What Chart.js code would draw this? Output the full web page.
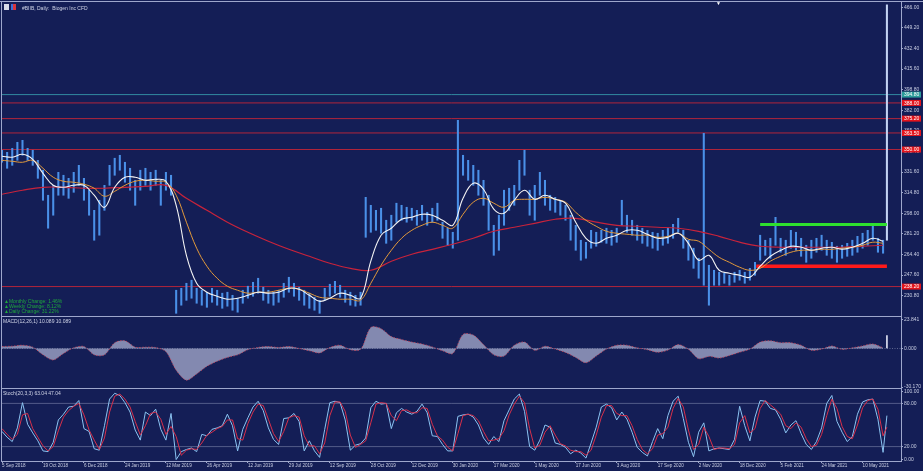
<!DOCTYPE html>
<html>
<head>
<meta charset="utf-8">
<title>#BIIB Daily</title>
<script src="https://cdn.jsdelivr.net/npm/chart.js@4.4.1/dist/chart.umd.min.js"></script>
<style>
  html, body { margin: 0; padding: 0; }
  body { width: 923px; height: 471px; overflow: hidden; position: relative; background: #141e56; font-family: "Liberation Sans", Arial, sans-serif; }
  canvas { position: absolute; left: 0; }
  .rule { position: absolute; background: #9ea7cc; }
  .label { position: absolute; font-size: 5px; line-height: 6px; color: #cfd3e6; white-space: pre; }
  .change { position: absolute; left: 4px; top: 299px; font-size: 5px; line-height: 4.8px; color: #1fa83c; white-space: pre; }
  .icon { position: absolute; top: 4px; width: 5px; height: 6px; }
</style>
</head>
<body>
<div class="rule" style="left:0;top:1px;width:923px;height:1px"></div>
<div class="rule" style="left:1px;top:1px;width:1px;height:461px"></div>
<div class="rule" style="left:901px;top:1px;width:1px;height:461px"></div>
<div class="rule" style="left:1px;top:316px;width:900px;height:1px"></div>
<div class="rule" style="left:1px;top:388px;width:900px;height:1px"></div>
<div class="rule" style="left:1px;top:461px;width:900px;height:1px"></div>

<canvas id="mainChart" width="923" height="317" style="top:0"></canvas>
<canvas id="macdChart" width="923" height="76" style="top:312px"></canvas>
<canvas id="stochChart" width="923" height="88" style="top:383px"></canvas>

<div class="icon" style="left:4px;background:#d8dbe8"></div>
<div class="icon" style="left:11px;background:linear-gradient(90deg,#3b6fd8 50%,#d8343c 50%)"></div>
<div class="label" style="left:22px;top:5px">#BIIB, Daily:  Biogen Inc CFD</div>
<div class="label" style="left:716px;top:0px;color:#ffffff;font-size:5px">▼</div>
<div class="change">▲Monthly Change: 1.46%
▲Weekly Change: 8.12%
▲Daily Change: 31.22%</div>
<div class="label" style="left:3px;top:318px">MACD(12,26,1) 10.089 10.089</div>
<div class="label" style="left:3px;top:390px">Stoch(20,3,3) 63.04 47.04</div>

<script>
// bar grid: one sample every 4 daily bars, moving averages every 8 / 16 bars
const BAR_STEP = 4;
const MA_STEP = 8;
const SLOW_STEP = 16;
const DATE_STEP = 32;
const X_MAX = 702;

const dateLabels = ["5 Sep 2018", "19 Oct 2018", "6 Dec 2018", "24 Jan 2019", "12 Mar 2019", "26 Apr 2019",
  "12 Jun 2019", "29 Jul 2019", "12 Sep 2019", "28 Oct 2019", "12 Dec 2019", "30 Jan 2020", "17 Mar 2020",
  "1 May 2020", "17 Jun 2020", "3 Aug 2020", "17 Sep 2020", "2 Nov 2020", "18 Dec 2020", "5 Feb 2021",
  "24 Mar 2021", "10 May 2021"];

const priceTicks = [230.8, 247.6, 264.4, 281.2, 298.0, 314.8, 331.6, 348.4, 365.2, 382.0, 398.8, 415.6, 432.4, 449.2, 466.0];
const macdTicks = [-30.17, 0, 23.841];
const stochTicks = [0, 20, 80, 100];
const stochLevels = [20, 80];

const highs = [349.4, 347.7, 351.0, 355.9, 357.5, 351.0, 349.4, 341.2, 333.1, 312.7,
  320.8, 331.4, 329.0, 326.5, 331.4, 337.1, 326.5, 316.8, 300.4, 308.6,
  320.8, 337.1, 342.9, 345.3, 339.6, 334.7, 324.9, 333.1, 334.7, 331.4,
  333.1, 324.9, 331.4, 329.0, 235.2, 236.8, 240.9, 243.4, 236.8, 235.2,
  233.6, 236.8, 235.2, 232.8, 233.6, 231.1, 228.7, 235.2, 238.5, 241.7,
  245.0, 237.7, 235.2, 233.6, 235.2, 240.9, 245.8, 240.9, 237.7, 235.2,
  232.8, 229.5, 227.0, 236.8, 240.1, 242.5, 239.3, 235.2, 233.6, 231.1,
  233.6, 311.0, 304.5, 300.4, 302.1, 292.3, 296.4, 306.2, 304.5, 302.9,
  302.1, 300.4, 304.5, 298.8, 302.1, 306.2, 290.7, 285.8, 282.5, 373.8,
  345.3, 341.2, 337.1, 333.1, 324.9, 312.7, 288.2, 296.4, 316.8, 318.4,
  320.8, 341.2, 349.4, 316.8, 320.8, 331.4, 324.9, 312.7, 311.0, 308.6,
  304.5, 296.4, 288.2, 276.0, 274.3, 284.1, 282.5, 284.1, 285.8, 284.1,
  285.8, 308.6, 296.4, 292.3, 288.2, 285.8, 284.1, 282.5, 281.7, 284.1,
  285.8, 289.0, 293.9, 284.1, 276.0, 269.5, 261.3, 363.2, 255.6, 251.5,
  249.9, 249.1, 247.4, 249.9, 251.5, 249.9, 253.1, 258.0, 280.1, 276.0,
  277.6, 294.7, 277.6, 276.0, 284.1, 282.5, 277.6, 271.9, 276.0, 277.6,
  280.1, 276.0, 274.3, 271.1, 271.9, 273.5, 276.0, 279.2, 281.7, 284.1,
  288.2, 277.6, 276.0];

const lows = [339.6, 334.7, 337.1, 341.2, 345.3, 341.2, 337.1, 326.5, 308.6, 285.8,
  296.4, 312.7, 312.7, 310.2, 315.1, 320.8, 308.6, 296.4, 276.0, 280.1,
  300.4, 320.8, 329.0, 333.1, 323.3, 316.8, 304.5, 316.8, 320.8, 316.8,
  320.8, 304.5, 316.8, 312.7, 216.4, 223.0, 227.0, 228.7, 224.6, 223.0,
  221.3, 225.4, 223.0, 220.5, 222.2, 218.9, 217.3, 224.6, 228.7, 230.3,
  232.8, 227.0, 224.6, 223.0, 225.4, 229.5, 233.6, 230.3, 227.0, 223.0,
  220.5, 218.9, 216.4, 227.0, 230.3, 232.8, 229.5, 225.4, 223.0, 222.2,
  223.0, 278.4, 282.5, 284.1, 281.7, 273.5, 276.0, 290.7, 292.3, 290.7,
  292.3, 288.2, 292.3, 288.2, 290.7, 292.3, 277.6, 271.9, 269.5, 276.0,
  329.0, 324.9, 320.8, 312.7, 304.5, 284.1, 263.7, 267.8, 288.2, 300.4,
  304.5, 316.8, 329.0, 296.4, 292.3, 312.7, 304.5, 300.4, 298.8, 296.4,
  292.3, 276.0, 267.8, 259.7, 261.3, 269.5, 271.1, 274.3, 273.5, 271.9,
  274.3, 288.2, 282.5, 280.1, 276.0, 273.5, 271.1, 269.5, 267.8, 271.9,
  273.5, 277.6, 282.5, 269.5, 259.7, 253.1, 245.0, 239.3, 223.0, 239.3,
  239.3, 240.9, 239.3, 241.7, 243.4, 240.9, 243.4, 247.4, 259.7, 263.7,
  261.3, 271.9, 266.2, 263.7, 269.5, 267.8, 262.9, 258.0, 261.3, 266.2,
  267.8, 263.7, 261.3, 258.0, 261.3, 262.9, 263.7, 266.2, 269.5, 271.9,
  276.0, 266.2, 265.4];

const fastMA = [344.5, 343.7, 346.1, 342.0, 330.6, 320.8, 319.2, 320.8, 320.8, 312.7,
  302.9, 319.2, 327.4, 327.4, 324.9, 325.7, 324.1, 304.5, 263.7, 240.9,
  233.6, 230.3, 227.9, 228.7, 231.1, 233.6, 232.8, 233.6, 236.8, 236.0,
  231.1, 226.2, 228.7, 232.8, 231.1, 228.7, 258.9, 280.1, 285.8, 293.1,
  294.7, 297.2, 296.4, 292.3, 288.2, 310.2, 322.5, 317.6, 301.3, 298.0,
  308.6, 316.8, 309.4, 312.7, 309.4, 306.2, 290.7, 277.6, 273.5, 277.6,
  280.1, 284.1, 284.1, 280.9, 277.6, 278.4, 281.7, 273.5, 259.7, 263.7,
  251.5, 249.1, 247.4, 245.8, 254.8, 262.9, 267.8, 271.1, 270.3, 267.8,
  269.5, 270.3, 268.6, 270.3, 273.5, 277.6, 275.2];

const midMA = [341.2, 340.4, 339.6, 341.2, 334.7, 327.4, 324.1, 323.3, 321.7, 318.4,
  311.9, 315.9, 320.8, 324.1, 324.9, 324.1, 323.3, 312.7, 290.7, 269.5,
  254.8, 245.0, 238.5, 235.2, 232.8, 233.6, 233.6, 235.2, 236.8, 236.0,
  232.8, 229.5, 228.7, 227.9, 227.9, 227.1, 240.9, 255.6, 267.8, 277.6,
  284.1, 288.2, 290.7, 288.2, 285.8, 297.2, 307.0, 310.2, 306.2, 302.9,
  308.6, 309.4, 309.4, 311.0, 309.4, 307.0, 298.8, 292.3, 287.4, 283.3,
  281.7, 280.9, 280.1, 280.1, 278.4, 279.2, 281.7, 276.8, 275.2, 268.6,
  262.1, 258.0, 254.0, 251.5, 253.1, 258.9, 262.9, 266.2, 267.8, 267.8,
  268.6, 268.6, 269.5, 270.3, 271.9, 274.4, 273.5];

const slowMA = [313.5, 316.8, 319.2, 319.2, 318.4, 318.4, 319.2, 320.0, 320.8, 310.2,
  300.4, 290.7, 282.5, 275.2, 268.6, 262.9, 257.2, 253.1, 251.5, 258.9,
  264.6, 268.6, 272.7, 277.6, 283.3, 286.6, 289.8, 293.1, 293.9, 290.7,
  288.2, 287.4, 286.6, 285.8, 283.3, 279.2, 274.4, 271.1, 270.3, 270.3,
  270.3, 270.3, 271.1, 271.9];

const macdValues = [1.5, 1.8, 2.5, 1.0, -5, -9, -4, 0.5, 1.5, -5,
  -5, 4.5, 6, 1, 1, 0.7, -2.5, -17, -24.8, -20,
  -14, -10, -7, -5, -1, 0.8, 1.5, 0.8, 1.5, 0,
  -1.8, -3.5, 0.8, 2.5, -1, -0.7, 16.5, 15.5, 9.3, 7,
  5, 3.5, 1.2, -1.8, -4, 11, 10.5, 3, -5, -6,
  2.5, 5, -1.5, 1.7, -0.5, -3.2, -7, -11.2, -6, -0.5,
  2.5, 2.5, 0.5, -1, -3, -1.3, 3, -0.7, -8, -6.2,
  -7.5, -5.5, -3, -0.5, 5, 6, 4.5, 4.5, 2.5, -1.5,
  -0.5, 2, -0.7, 0.5, 2, 3.5, 0.5];

const stochK = [41, 33, 27, 46, 81, 51, 39, 28, 14, 13,
  26, 57, 65, 75, 76, 84, 45, 41, 17, 15,
  49, 86, 94, 91, 81, 68, 43, 29, 68, 63,
  72, 44, 29, 66, 2, 13, 16, 18, 13, 37,
  35, 44, 46, 49, 65, 49, 14, 44, 60, 75,
  83, 70, 46, 30, 23, 59, 60, 66, 55, 14,
  28, 14, 5, 44, 81, 83, 81, 57, 15, 22,
  24, 32, 74, 83, 79, 80, 45, 67, 73, 68,
  65, 69, 79, 67, 35, 34, 23, 14, 14, 62,
  64, 65, 61, 50, 32, 23, 34, 27, 56, 71,
  86, 93, 69, 20, 15, 29, 50, 47, 25, 23,
  19, 10, 15, 11, 4, 25, 47, 75, 79, 74,
  57, 68, 58, 40, 19, 12, 7, 27, 45, 31,
  63, 83, 90, 59, 26, 6, 40, 53, 14, 17,
  18, 17, 16, 30, 76, 49, 28, 61, 84, 83,
  73, 71, 58, 39, 50, 56, 38, 23, 16, 27,
  46, 80, 91, 55, 40, 27, 34, 65, 82, 85,
  86, 58, 12];

const stochD = [45, 37, 30, 37, 64, 66, 45, 33, 21, 14,
  20, 42, 61, 70, 76, 80, 64, 43, 29, 16,
  32, 68, 90, 93, 86, 75, 55, 36, 49, 66,
  68, 58, 37, 48, 34, 8, 15, 17, 16, 25,
  36, 40, 45, 48, 57, 57, 31, 29, 52, 68,
  79, 77, 58, 38, 27, 41, 60, 63, 61, 35,
  21, 21, 10, 25, 63, 82, 82, 69, 36, 19,
  23, 28, 53, 79, 81, 80, 63, 56, 70, 71,
  67, 67, 74, 73, 51, 35, 29, 19, 14, 38,
  63, 65, 63, 56, 41, 28, 29, 31, 42, 64,
  79, 90, 81, 45, 18, 22, 40, 49, 36, 24,
  21, 15, 13, 13, 8, 15, 36, 61, 77, 77,
  66, 63, 63, 49, 30, 16, 10, 17, 36, 38,
  47, 73, 87, 75, 43, 16, 23, 47, 34, 16,
  18, 18, 17, 23, 53, 63, 39, 45, 73, 84,
  78, 72, 65, 49, 45, 53, 47, 31, 20, 22,
  37, 63, 86, 73, 48, 34, 31, 50, 74, 84,
  86, 72, 35];

// the last (gap) bar and the current readings
const lastBar = { index: 691, high: 468.0, low: 276.0, macd: 10.089, k: 63.04, d: 47.04 };
const lastClose = 394.8;
const redLevels = [388.0, 375.2, 363.5, 350.0, 238.2];
const resistance = { value: 288.8, from: 592 };
const support = { value: 254.8, from: 589 };

const AXIS = "#9ea7cc";
const TEXT = "#c8cde2";

Chart.defaults.font.family = '"Liberation Sans", Arial, sans-serif';
Chart.defaults.animation = false;
Chart.defaults.events = [];
Chart.defaults.plugins.legend.display = false;
Chart.defaults.plugins.tooltip.enabled = false;

const series = (values, step) => values.map((v, i) => ({ x: i * step, y: v }));

function hiddenX() {
  return { type: "linear", min: 0, max: X_MAX, offset: false, display: false };
}

// MT4 prints the extreme scale labels a little inside the pane: insetTop/insetBottom move them (value units)
function rightAxis(min, max, tickValues, digits, insetTop, insetBottom) {
  return {
    position: "right",
    min: min,
    max: max,
    afterBuildTicks: (scale) => {
      scale.ticks = tickValues.map((v) => {
        if (v === max) return { value: max - (insetTop || 0) };
        if (v === min) return { value: min + (insetBottom || 0) };
        return { value: v };
      });
    },
    afterFit: (scale) => {
      scale.width = 22;
      scale.paddingTop = 0;
      scale.paddingBottom = 0;
    },
    grid: { drawOnChartArea: false, color: AXIS, tickLength: 2 },
    border: { display: false },
    ticks: {
      color: TEXT,
      font: { size: 5 },
      padding: 1,
      autoSkip: false,
      callback: (v, i) => tickValues[i].toFixed(digits),
    },
  };
}

function level(value, color, width, from, to, dash) {
  return {
    type: "line",
    data: [{ x: from, y: value }, { x: to, y: value }],
    borderColor: color,
    borderWidth: width,
    borderDash: dash || [],
    pointRadius: 0,
    order: 9,
  };
}

// price tags on the right axis for the drawn levels
const levelTags = {
  id: "levelTags",
  afterDraw(chart) {
    const ctx = chart.ctx;
    const yScale = chart.scales.y;
    const left = chart.chartArea.right + 1;
    const tag = (value, fill) => {
      const y = yScale.getPixelForValue(value);
      ctx.save();
      ctx.fillStyle = fill;
      ctx.fillRect(left, y - 3, 19, 6);
      ctx.fillStyle = "#ffffff";
      ctx.font = '5px "Liberation Sans", Arial, sans-serif';
      ctx.textBaseline = "middle";
      ctx.fillText(value.toFixed(2), left + 2, y + 0.3);
      ctx.restore();
    };
    redLevels.forEach((v) => tag(v, "#e3141c"));
    tag(lastClose, "#2b9c9a");
  },
};

const candles = highs.map((h, i) => ({ x: i * BAR_STEP, y: [lows[i], h] }));
candles.push({ x: lastBar.index, y: [lastBar.low, lastBar.high] });

new Chart("mainChart", {
  type: "line",
  data: {
    datasets: [
      { data: series(fastMA, MA_STEP), borderColor: "#f4f4f4", borderWidth: 1.1, pointRadius: 0, tension: 0.4, order: 1 },
      { data: series(midMA, MA_STEP), borderColor: "#e39a3b", borderWidth: 1, pointRadius: 0, tension: 0.4, order: 2 },
      { data: series(slowMA, SLOW_STEP), borderColor: "#c8233b", borderWidth: 1.2, pointRadius: 0, tension: 0.4, order: 3 },
      {
        type: "bar",
        data: candles,
        backgroundColor: (c) => (c.dataIndex === highs.length ? "#c3d3f3" : "#4a90e8"),
        barThickness: 1.4,
        order: 5,
      },
      ...redLevels.map((v) => level(v, "#c42638", 0.9, 0, X_MAX)),
      level(lastClose, "#3aa6b4", 0.8, 0, X_MAX),
      Object.assign(level(resistance.value, "#2ee02e", 3, resistance.from, lastBar.index), { order: 4 }),
      Object.assign(level(support.value, "#ff1a1a", 3.5, support.from, lastBar.index), { order: 4 }),
    ],
  },
  options: {
    responsive: false,
    layout: { padding: { left: 2, top: 4, right: 0, bottom: 1 } },
    scales: { x: hiddenX(), y: rightAxis(214.2, 468.7, priceTicks, 2) },
  },
  plugins: [levelTags],
});

new Chart("macdChart", {
  type: "line",
  data: {
    datasets: [
      {
        data: series(macdValues, MA_STEP),
        borderColor: "#c9455a",
        borderWidth: 0.8,
        borderDash: [1.5, 1.5],
        backgroundColor: "rgba(150,156,192,0.85)",
        fill: "origin",
        pointRadius: 0,
        tension: 0.3,
        order: 2,
      },
      { type: "bar", data: [{ x: lastBar.index, y: lastBar.macd }], backgroundColor: "#c9cde2", barThickness: 1.2, order: 1 },
      level(0, "rgba(205,210,230,0.7)", 0.6, 0, X_MAX, [1, 1.5]),
    ],
  },
  options: {
    responsive: false,
    layout: { padding: { left: 2, top: 6, right: 0, bottom: 1 } },
    scales: { x: hiddenX(), y: rightAxis(-30.17, 23.841, macdTicks, 3, 1.5, 0) },
  },
});

new Chart("stochChart", {
  type: "line",
  data: {
    datasets: [
      {
        data: series(stochD, BAR_STEP).concat([{ x: lastBar.index, y: lastBar.d }]),
        borderColor: "#d8304b", borderWidth: 1, pointRadius: 0, order: 1,
      },
      {
        data: series(stochK, BAR_STEP).concat([{ x: lastBar.index, y: lastBar.k }]),
        borderColor: "#8cc4f2", borderWidth: 1, pointRadius: 0, order: 2,
      },
      ...stochLevels.map((v) => level(v, "rgba(170,178,210,0.7)", 0.6, 0, X_MAX)),
    ],
  },
  options: {
    responsive: false,
    layout: { padding: { left: 2, top: 6, right: 0, bottom: 0 } },
    scales: {
      x: {
        type: "linear",
        min: 0,
        max: X_MAX,
        offset: false,
        afterBuildTicks: (scale) => {
          scale.ticks = dateLabels.map((_, i) => ({ value: i * DATE_STEP }));
        },
        afterFit: (scale) => {
          scale.height = 10;
          scale.paddingLeft = 0;
          scale.paddingRight = 0;
        },
        grid: { drawOnChartArea: false, color: AXIS, tickLength: 2 },
        border: { display: false },
        ticks: {
          align: "start",
          maxRotation: 0,
          autoSkip: false,
          color: TEXT,
          font: { size: 4.6 },
          padding: 0,
          callback: (v, i) => dateLabels[i],
        },
      },
      y: rightAxis(0, 100, stochTicks, 2, 4, 2.6),
    },
  },
});
</script>
</body>
</html>
